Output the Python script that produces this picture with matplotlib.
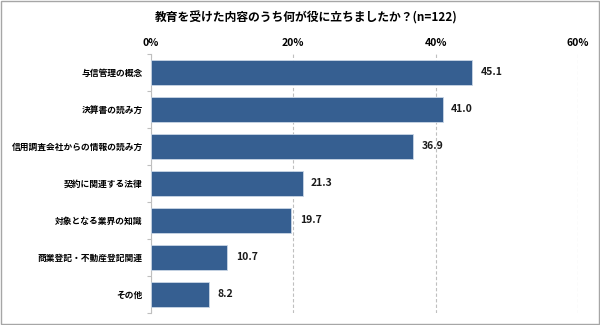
import matplotlib
matplotlib.use('Agg')
import matplotlib.pyplot as plt
from matplotlib.patches import Rectangle

categories = ['与信管理の概念', '決算書の読み方', '信用調査会社からの情報の読み方',
              '契約に関連する法律', '対象となる業界の知識', '商業登記・不動産登記関連', 'その他']
values = [45.1, 41.0, 36.9, 21.3, 19.7, 10.7, 8.2]
ticks = [0, 20, 40, 60]
tick_labels = ['0%', '20%', '40%', '60%']
title = '教育を受けた内容のうち何が役に立ちましたか？(n=122)'

plt.rcParams['font.family'] = ['Noto Sans CJK JP', 'DejaVu Sans']

fig = plt.figure(figsize=(6, 3.25), dpi=100)
ax = fig.add_axes([0.2517, 0.037, 0.7113, 0.797])

y = list(range(len(categories)))
ax.barh(y, values, height=0.7, color='#365F91', edgecolor='#C9D6E6', linewidth=0.6, zorder=3)
for yi, v in zip(y, values):
    ax.text(v + 1.2, yi, f'{v:.1f}', va='center', ha='left', fontsize=7.5, fontweight='bold', color='#1a1a1a')

ax.set_xlim(0, 60)
ax.set_ylim(len(categories) - 0.5, -0.5)
ax.set_xticks(ticks)
ax.set_xticklabels(tick_labels, fontsize=7.5, fontweight='bold')
ax.xaxis.tick_top()
ax.tick_params(axis='x', length=0, pad=4)
ax.set_yticks(y)
ax.set_yticklabels(categories, fontsize=6.3, fontweight='bold')
ax.set_yticks([i - 0.5 for i in range(len(categories) + 1)], minor=True)
ax.tick_params(axis='y', which='major', length=0, pad=6)
ax.tick_params(axis='y', which='minor', length=3, color='#BFBFBF', width=0.8)
ax.grid(axis='x', linestyle=(0, (3, 2)), color='#BFBFBF', linewidth=0.8, zorder=0)
for s in ['top', 'right', 'bottom']:
    ax.spines[s].set_visible(False)
ax.spines['left'].set_color('#BFBFBF')
ax.spines['left'].set_linewidth(0.8)

fig.text(0.51, 0.945, title, ha='center', va='center', fontsize=8.5, fontweight='bold')
fig.patches.append(Rectangle((0.002, 0.003), 0.996, 0.994, transform=fig.transFigure,
                             fill=False, edgecolor='#A6A6A6', linewidth=1))

fig.savefig('out.png', dpi=100)
